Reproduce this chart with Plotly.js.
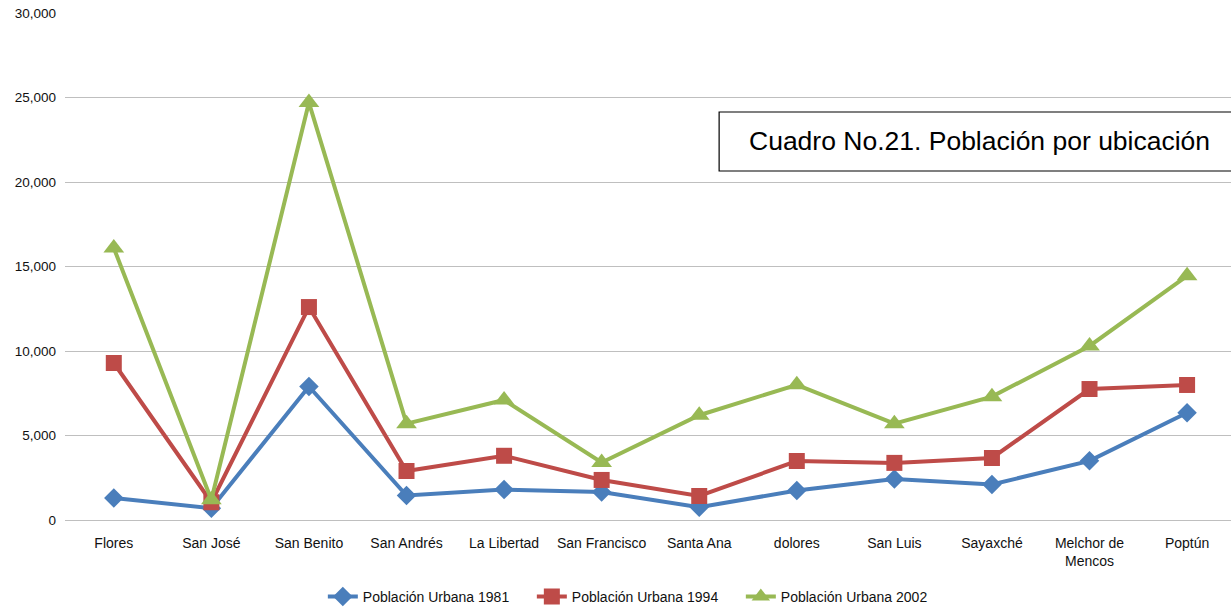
<!DOCTYPE html>
<html><head><meta charset="utf-8">
<script src="https://cdn.plot.ly/plotly-3.0.1.min.js"></script>
<style>html,body{margin:0;padding:0;background:#fff;overflow:hidden}</style>
</head><body>
<div id="chart" style="width:1231px;height:613px"></div>
<script>
const categories = ["Flores","San José","San Benito","San Andrés","La Libertad","San Francisco","Santa Ana","dolores","San Luis","Sayaxché","Melchor de<br>Mencos","Poptún"];
const urbana1981 = [1300, 700, 7900, 1450, 1800, 1650, 750, 1750, 2430, 2100, 3500, 6350];
const urbana1994 = [9290, 1050, 12600, 2900, 3800, 2370, 1420, 3490, 3380, 3670, 7750, 7990];
const urbana2002 = [16100, 1200, 24700, 5700, 7100, 3400, 6200, 8000, 5700, 7300, 10300, 14450];
const seriesNames = ["Población Urbana 1981","Población Urbana 1994","Población Urbana 2002"];
const yTicks = [0, 5000, 10000, 15000, 20000, 25000, 30000];

const colors = ["#4A7EBB","#BE4B48","#98B954"];
const symbols = ["diamond","square","triangle-up"];
const sizes = [15, 16, 18];
const data = [urbana1981, urbana1994, urbana2002].map((vals, i) => ({
  x: categories, y: vals, name: seriesNames[i], type: "scatter", mode: "lines+markers",
  line: {color: colors[i], width: 4},
  marker: {symbol: symbols[i], size: sizes[i], color: colors[i]}
}));

const layout = {
  width: 1231, height: 613,
  margin: {l: 65, r: 0, t: 13, b: 93},
  paper_bgcolor: "#fff", plot_bgcolor: "#fff",
  font: {family: "Liberation Sans, Arial, sans-serif", size: 13, color: "#111"},
  showlegend: true,
  legend: {orientation: "h", x: 0.490, xanchor: "center", y: -0.152, yanchor: "middle",
           font: {size: 14, color: "#111"}, itemwidth: 30, tracegroupgap: 0, entrywidth: 164},
  xaxis: {type: "category", range: [-0.5, 11.45], showgrid: false, zeroline: false,
          showline: true, linecolor: "#bfbfbf", linewidth: 1, ticks: "", tickfont: {size: 14},
          ticklabelstandoff: 10, fixedrange: true},
  yaxis: {range: [0, 30000], tickvals: yTicks, tickformat: ",", showgrid: true, gridcolor: "#bfbfbf",
          gridwidth: 1, zeroline: false, showline: false, ticks: "", tickfont: {size: 13.5}, ticklabelstandoff: 8},
  shapes: [{type: "rect", xref: "paper", yref: "paper", x0: 0.561, x1: 1.02, y0: 0.6884, y1: 0.8047,
            line: {color: "#000", width: 1.2}, fillcolor: "#fff", layer: "above"}],
  annotations: [{xref: "paper", yref: "paper", x: 0.784, y: 0.7475, xanchor: "center", yanchor: "middle",
                 text: "Cuadro No.21. Población por ubicación", showarrow: false,
                 font: {size: 26.5, color: "#000"}}]
};
Plotly.newPlot("chart", data, layout, {displayModeBar: false, staticPlot: true});
</script>
</body></html>
